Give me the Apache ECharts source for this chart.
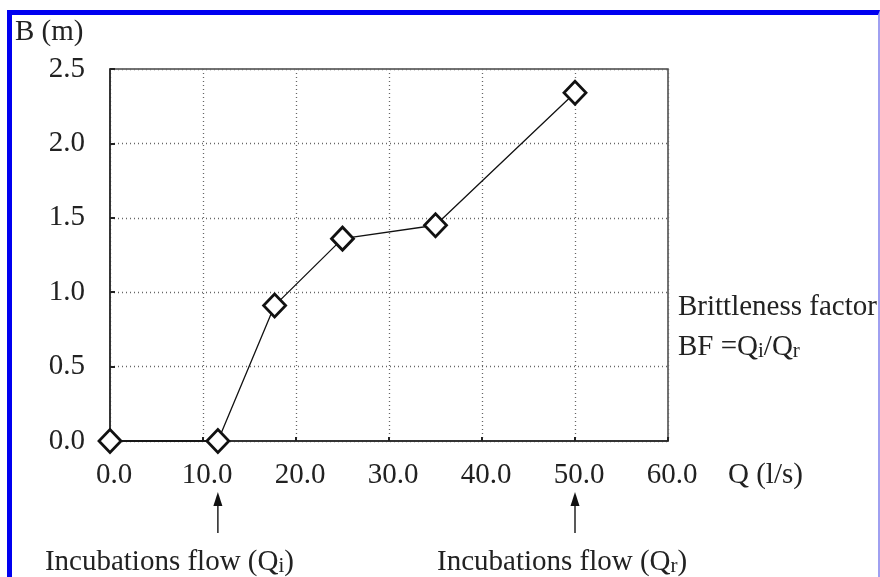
<!DOCTYPE html>
<html>
<head>
<meta charset="utf-8">
<script src="https://cdn.jsdelivr.net/npm/echarts@6/dist/echarts.min.js"></script>
<style>
  html, body { margin: 0; padding: 0; background: #ffffff; }
  #frame { position: absolute; left: 7px; top: 10px; width: 866px; height: 580px;
           border-left: 5px solid #0000f0; border-top: 5px solid #0000f0; border-right: 2px solid #a0a0f0; }
  #main { position: absolute; left: 0; top: 0; width: 880px; height: 577px; }
</style>
</head>
<body>
<div id="frame"></div>
<div id="main"></div>
<script>
// flow Q (l/s) and width B (m)
const flow = [0.0, 11.6, 17.7, 25.0, 35.0, 50.0];
const width = [0.0, 0.0, 0.91, 1.36, 1.45, 2.34];
const xTicks = [0, 10, 20, 30, 40, 50, 60];
const yTicks = [0, 0.5, 1.0, 1.5, 2.0, 2.5];
const arrowAt = [11.6, 50.0];

const font = 'Liberation Serif';
const fs = 29;

const chart = echarts.init(document.getElementById('main'));

const option = {
  animation: false,
  textStyle: { fontFamily: font },
  grid: {
    left: 110, right: 212, top: 69, bottom: 136,
    show: true, borderColor: '#444', borderWidth: 1.5
  },
  xAxis: {
    type: 'value',
    min: xTicks[0], max: xTicks[xTicks.length - 1], interval: 10,
    name: 'Q (l/s)',
    nameLocation: 'end',
    nameGap: 60,
    nameTextStyle: { fontFamily: font, fontSize: fs, color: '#222', align: 'left', verticalAlign: 'top', padding: [20, 0, 0, 0] },
    axisLine: { lineStyle: { color: '#222', width: 1.5 } },
    axisTick: { inside: true, length: 4, lineStyle: { color: '#222', width: 2 } },
    axisLabel: { margin: 20, fontSize: fs, color: '#222', fontFamily: font, padding: [0, 0, 0, 8], formatter: v => v.toFixed(1) },
    splitLine: { show: true, lineStyle: { color: '#666', type: [1, 3], width: 1.3 } }
  },
  yAxis: {
    type: 'value',
    min: yTicks[0], max: yTicks[yTicks.length - 1], interval: 0.5,
    name: 'B (m)',
    nameLocation: 'end',
    nameGap: 22,
    nameTextStyle: { fontFamily: font, fontSize: fs, color: '#222', align: 'left', padding: [0, 0, 0, -95] },
    axisLine: { show: true, lineStyle: { color: '#222', width: 1.5 } },
    axisTick: { show: true, inside: true, length: 5, lineStyle: { color: '#222', width: 2 } },
    axisLabel: { margin: 25, fontSize: fs, color: '#222', fontFamily: font, formatter: v => v.toFixed(1) },
    splitLine: { show: true, lineStyle: { color: '#666', type: [1, 3], width: 1.3 } }
  },
  series: [{
    type: 'line',
    data: flow.map((q, i) => [q, width[i]]),
    symbol: 'diamond',
    symbolSize: [22, 23],
    clip: false,
    lineStyle: { color: '#111', width: 1.3 },
    itemStyle: { color: '#fff', borderColor: '#111', borderWidth: 2.8 },
    z: 5
  }]
};

chart.setOption(option);

// annotations placed from the axis scale
const axisBottom = chart.convertToPixel({ gridIndex: 0 }, [0, 0])[1];
const labels = ['Incubations flow (Q{s|i})', 'Incubations flow (Q{s|r})'];
const sub = { s: { fontFamily: font, fontSize: 21, fill: '#222', padding: [8, 0, 0, 0] } };
const graphics = [];
arrowAt.forEach((q, i) => {
  const px = chart.convertToPixel({ gridIndex: 0 }, [q, 0])[0];
  graphics.push({
    type: 'line', shape: { x1: px, y1: axisBottom + 62, x2: px, y2: axisBottom + 92 },
    style: { stroke: '#222', lineWidth: 1.5 }
  });
  graphics.push({
    type: 'polygon', shape: { points: [[px, axisBottom + 51], [px - 4.5, axisBottom + 65], [px + 4.5, axisBottom + 65]] },
    style: { fill: '#111' }
  });
  graphics.push({
    type: 'text', x: px - (i === 0 ? 173 : 138), y: axisBottom + 121,
    style: { text: labels[i], fontFamily: font, fontSize: fs, fill: '#222', verticalAlign: 'middle', rich: sub }
  });
});
graphics.push({
  type: 'text', x: 678, y: 307,
  style: { text: 'Brittleness factor', fontFamily: font, fontSize: fs, fill: '#222', verticalAlign: 'middle' }
});
graphics.push({
  type: 'text', x: 678, y: 347,
  style: { text: 'BF =Q{s|i}/Q{s|r}', fontFamily: font, fontSize: fs, fill: '#222', verticalAlign: 'middle', rich: sub }
});
chart.setOption({ graphic: graphics });
</script>
</body>
</html>
